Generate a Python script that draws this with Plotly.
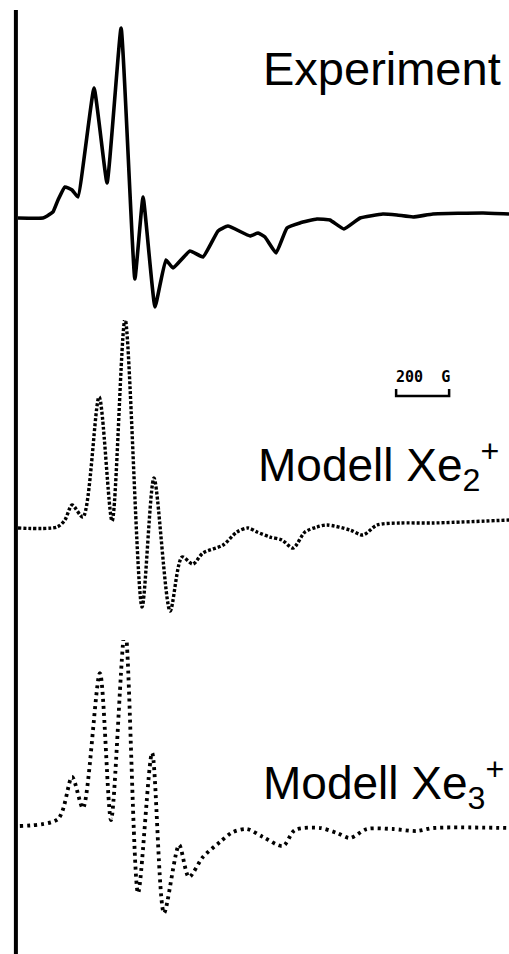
import plotly.graph_objects as go

# ---- data (field in G, amplitude in arbitrary units, baseline = 0) ----
exp_field = [68, 162, 178, 200, 219, 245, 272, 294, 355, 404, 457, 509, 540, 585, 626, 653,
             717, 766, 823, 860, 944, 974, 1000, 1042, 1083, 1132, 1196, 1245, 1298, 1359,
             1445, 1498, 1559, 1634, 1823, 1921]
exp_amp = [0, 0, 2, 6, 18, 31, 28, 21, 130, 35, 190, -61, 21, -89, -42, -50,
           -33, -39, -13, -8, -18, -15, -19, -35, -10, -5, -1, -2, -11, 0,
           4, 3, 1, 4, 5, 4]

xe2_field = [68, 215, 245, 272, 313, 374, 423, 472, 536, 581, 642, 687, 728, 766, 842, 894,
             936, 970, 1019, 1064, 1106, 1151, 1196, 1234, 1321, 1370, 1423, 1510, 1634, 1921]
xe2_amp = [0, 1, 8, 23, 11, 131, 7, 209, -79, 50, -83, -29, -36, -25, -17, -4,
           0, -4, -9, -12, -20, -4, 1, 3, -2, -7, 3, 5, 5, 8]

xe3_field = [75, 219, 272, 313, 377, 419, 472, 521, 574, 619, 676, 713, 766, 830, 879, 932,
             993, 1068, 1113, 1208, 1272, 1321, 1385, 1483, 1574, 1634, 1921]
xe3_amp = [2, 9, 51, 20, 155, 8, 200, -65, 75, -85, -17, -49, -29, -14, -4, -1,
           -9, -18, -2, 0, -5, -10, -1, -1, -3, 0, 0]

labels = ["Experiment", "Modell Xe<sub>2</sub><sup>+</sup>", "Modell Xe<sub>3</sub><sup>+</sup>"]
scale_label = "200  G"
scale_g = 200
scale_start_g = 1495

W, H = 509, 954

fig = go.Figure()
fig.add_trace(go.Scatter(x=exp_field, y=exp_amp, mode="lines", yaxis="y",
                         line=dict(color="black", width=3.6, shape="spline", smoothing=0.35),
                         hoverinfo="skip"))
fig.add_trace(go.Scatter(x=xe2_field, y=xe2_amp, mode="lines", yaxis="y2",
                         line=dict(color="black", width=3.4, dash="3px,2px", shape="spline", smoothing=0.8),
                         hoverinfo="skip"))
fig.add_trace(go.Scatter(x=xe3_field, y=xe3_amp, mode="lines", yaxis="y3",
                         line=dict(color="black", width=3.8, dash="3px,4px", shape="spline", smoothing=0.8),
                         hoverinfo="skip"))

ax_common = dict(visible=False, showgrid=False, zeroline=False, fixedrange=True)
fig.update_layout(
    width=W, height=H,
    margin=dict(l=0, r=0, t=0, b=0),
    paper_bgcolor="white", plot_bgcolor="white",
    showlegend=False,
    xaxis=dict(range=[0, 1921], domain=[0, 1], **ax_common),
    yaxis=dict(range=[-102, 218], domain=[0.6646, 1], **ax_common),
    yaxis2=dict(range=[-112, 208], domain=[0.3291, 0.6646], **ax_common),
    yaxis3=dict(range=[-126, 188], domain=[0, 0.3291], **ax_common),
)

# vertical axis line at the left
fig.add_shape(type="line", xref="x", yref="paper", x0=60, x1=60, y0=0, y1=0.9895,
              line=dict(color="black", width=4))

# scale bar
x0 = scale_start_g
x1 = scale_start_g + scale_g
fig.add_shape(type="path", xref="x", yref="paper",
              path=f"M {x0},0.5922 L {x0},0.5849 L {x1},0.5849 L {x1},0.5922",
              line=dict(color="black", width=2.5))
fig.add_annotation(text=f"<b>{scale_label}</b>", xref="x", yref="paper",
                   x=(x0 + x1) / 2, y=1 - 377.5 / H, xanchor="center", yanchor="middle",
                   showarrow=False, font=dict(family="DejaVu Sans Mono", size=15, color="black"))

label_pos = [(261, 69), (256, 465.5), (261, 783.5)]
label_size = [47, 46, 46]
for text, (px, py), fs in zip(labels, label_pos, label_size):
    fig.add_annotation(text=text, xref="paper", yref="paper", x=px / W, y=1 - py / H,
                       xanchor="left", yanchor="middle", showarrow=False,
                       font=dict(family="Liberation Sans", size=fs, color="black"))

fig.write_html("out.html", config={"displayModeBar": False, "staticPlot": True},
               post_script="document.body.style.margin='0px';document.body.style.overflow='hidden';")
